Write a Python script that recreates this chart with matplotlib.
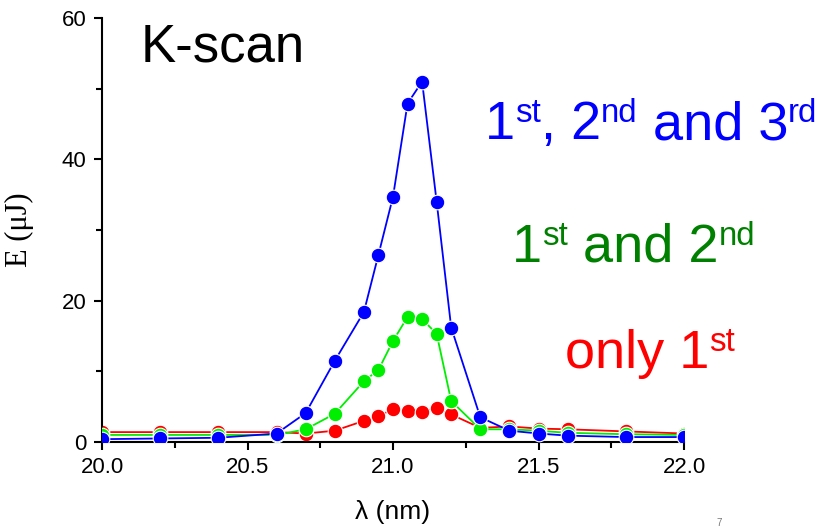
import matplotlib
matplotlib.use("Agg")
import matplotlib.pyplot as plt
from matplotlib.ticker import MultipleLocator
from matplotlib.transforms import IdentityTransform
from matplotlib.font_manager import FontProperties

plt.rcParams['font.family'] = ['Liberation Sans', 'DejaVu Sans']

# Data
wavelength = [20.0, 20.2, 20.4, 20.6, 20.7, 20.8, 20.9, 20.95, 21.0, 21.05,
              21.1, 21.15, 21.2, 21.3, 21.4, 21.5, 21.6, 21.8, 22.0]
only_first = [1.4, 1.4, 1.4, 1.4, 1.2, 1.6, 3.0, 3.7, 4.6, 4.4,
              4.3, 4.8, 3.9, 2.0, 2.2, 1.9, 1.8, 1.5, 1.2]
first_second = [1.0, 1.0, 1.0, 1.0, 1.8, 4.0, 8.6, 10.2, 14.3, 17.7,
                17.4, 15.3, 5.8, 1.8, 1.8, 1.6, 1.3, 1.1, 1.0]
first_second_third = [0.4, 0.5, 0.6, 1.2, 4.1, 11.5, 18.4, 26.5, 34.7, 47.9,
                      51.0, 34.0, 16.2, 3.5, 1.6, 1.2, 0.9, 0.7, 0.7]

x_ticks = [20.0, 20.5, 21.0, 21.5, 22.0]
x_tick_labels = ["20.0", "20.5", "21.0", "21.5", "22.0"]
y_ticks = [0, 20, 40, 60]
y_tick_labels = ["0", "20", "40", "60"]

label_blue = [("1", False), ("st", True), (", 2", False), ("nd", True),
              (" and 3", False), ("rd", True)]
label_green = [("1", False), ("st", True), (" and 2", False), ("nd", True)]
label_red = [("only 1", False), ("st", True)]

DPI = 100
fig = plt.figure(figsize=(8.17, 5.29), dpi=DPI)
H = 529
ax = fig.add_axes([102/817, 1-442/529, (684-102)/817, (442-18)/529])

series = [
    (only_first, '#FF0000', 2),
    (first_second, '#00EE00', 3),
    (first_second_third, '#0000FF', 4),
]
for vals, c, z in series:
    ax.plot(wavelength, vals, color=c, lw=1.3, marker='o', ms=10.5,
            markerfacecolor=c, markeredgecolor='white', markeredgewidth=0.8,
            zorder=z)

ax.set_xlim(20.0, 22.0)
ax.set_ylim(0, 60)
ax.set_xticks(x_ticks)
ax.set_xticklabels(x_tick_labels)
ax.set_yticks(y_ticks)
ax.set_yticklabels(y_tick_labels)
ax.xaxis.set_minor_locator(MultipleLocator(0.25))
ax.yaxis.set_minor_locator(MultipleLocator(10))

for s in ['top', 'right']:
    ax.spines[s].set_visible(False)
for s in ['left', 'bottom']:
    ax.spines[s].set_linewidth(1.5)

ax.tick_params(which='major', direction='out', length=6, width=1.5,
               labelsize=16, pad=5)
ax.tick_params(which='minor', direction='out', length=4, width=1.5)

ax.set_xlabel('λ (nm)', fontsize=19, labelpad=16)
ax.set_ylabel('E (μJ)', fontsize=22, family=['Liberation Serif', 'DejaVu Serif'])
ax.yaxis.set_label_coords((34 - 102) / 582, 0.5)

fig.text(141/817, 1-62/529, 'K-scan', fontsize=38, color='black',
         ha='left', va='baseline')

renderer = fig.canvas.get_renderer()


def text_width(s, size):
    prop = FontProperties(family=['Liberation Sans', 'DejaVu Sans'], size=size)
    w, h, d = renderer.get_text_width_height_descent(s, prop, ismath=False)
    return w


def advance(s, size):
    return text_width("H" + s + "H", size) - text_width("HH", size)


def rich_text(x_px, base_px, pieces, color, size, sup_scale=0.61, sup_rise=0.32):
    cur = x_px
    y = H - base_px
    em = size * DPI / 72.0
    for txt, sup in pieces:
        fs = size * sup_scale if sup else size
        yy = y + (em * sup_rise if sup else 0.0)
        stripped = txt.lstrip(" ")
        nlead = len(txt) - len(stripped)
        if nlead:
            cur += advance(" " * nlead, fs)
        fig.text(cur, yy, stripped, fontsize=fs, color=color, ha='left',
                 va='baseline', transform=IdentityTransform())
        cur += advance(stripped, fs)


rich_text(485, 139, label_blue, '#0000FF', 39)
rich_text(512, 262, label_green, '#008000', 39)
rich_text(565, 368, label_red, '#FF0000', 39)

fig.text(716/817, 1-526/529, '7', fontsize=7, color='#777777',
         ha='left', va='baseline')

fig.savefig('out.png', dpi=DPI)
